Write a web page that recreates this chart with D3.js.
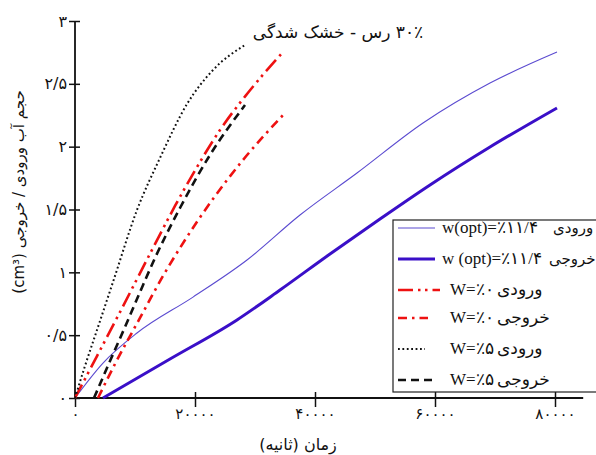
<!DOCTYPE html>
<html><head><meta charset="utf-8">
<script src="https://cdn.jsdelivr.net/npm/d3@7"></script>
<style>body{margin:0;background:#fff}svg{display:block}</style>
</head><body>
<svg id="c" width="596" height="455"></svg>
<script>
// ---- data ----
const xTicks = [0, 20000, 40000, 60000, 80000];
const xTickLabels = ["۰", "۲۰۰۰۰", "۴۰۰۰۰", "۶۰۰۰۰", "۸۰۰۰۰"];
const yTicks = [0, 0.5, 1, 1.5, 2, 2.5, 3];
const yTickLabels = ["۰", "۰/۵", "۱", "۱/۵", "۲", "۲/۵", "۳"];

const tOptIn  = [0, 4667, 10333, 19667, 28667, 37500, 47000, 58000, 69167, 80333];
const vOptIn  = [0, 0.278, 0.517, 0.803, 1.098, 1.456, 1.790, 2.188, 2.506, 2.753];
const tOptOut = [4667, 15833, 27000, 34167, 42500, 50833, 59167, 69167, 80333];
const vOptOut = [0, 0.310, 0.621, 0.859, 1.146, 1.424, 1.695, 1.997, 2.308];
const tW0In   = [0, 3667, 7500, 13000, 16667, 20333, 24167, 28667, 34667];
const vW0In   = [0, 0.334, 0.684, 1.194, 1.528, 1.838, 2.133, 2.419, 2.753];
const tW0Out  = [3833, 6667, 10833, 14667, 18333, 23000, 28000, 35000];
const vW0Out  = [0, 0.271, 0.637, 0.971, 1.257, 1.584, 1.894, 2.268];
const tW5In   = [0, 1667, 3667, 6333, 10333, 14167, 18667, 23000, 28333];
const vW5In   = [0, 0.255, 0.541, 0.923, 1.496, 1.910, 2.339, 2.610, 2.809];
const tW5Out  = [3167, 5833, 8333, 10833, 13333, 17500, 22500, 28333];
const vW5Out  = [0, 0.294, 0.565, 0.843, 1.114, 1.512, 1.934, 2.331];

const seriesNames = ["ورودی", "خروجی", "ورودی", "خروجی", "ورودی", "خروجی"];
const seriesW = ["w(opt)=٪۱۱/۴", "w (opt)=٪۱۱/۴", "W=٪۰", "W=٪۰", "W=٪۵", "W=٪۵"];

const title = "۳۰٪ رس - خشک شدگی";
const xTitle = "زمان (ثانیه)";
const yTitle = "حجم آب ورودی / خروجی (cm³)";

// ---- styles ----
const styles = [
  {t: tOptIn,  v: vOptIn,  color: "#5b4bd0", w: 1.1, dash: null},
  {t: tOptOut, v: vOptOut, color: "#3a0fc8", w: 3,   dash: null},
  {t: tW0In,   v: vW0In,   color: "#ee1111", w: 2.6, dash: "15,5,2.5,4.5,2.5,5"},
  {t: tW0Out,  v: vW0Out,  color: "#ee1111", w: 2.6, dash: "9,5,2.5,5"},
  {t: tW5In,   v: vW5In,   color: "#111111", w: 2,   dash: "1.8,2.6"},
  {t: tW5Out,  v: vW5Out,  color: "#111111", w: 2.6, dash: "8,5"}
];

const svg = d3.select("#c");
const x = d3.scaleLinear().domain([0, 80000]).range([75, 555]);
const y = d3.scaleLinear().domain([0, 3]).range([398, 21]);

const persian = "'DejaVu Sans', 'Noto Sans', sans-serif";
const serif = "'Liberation Serif', 'DejaVu Serif', serif";

// axes
const gx = svg.append("g").attr("transform", `translate(0,${y(0)})`)
  .call(d3.axisBottom(x).tickValues(xTicks).tickFormat((d,i)=>xTickLabels[i]).tickSizeOuter(0));
gx.select(".domain").remove();
gx.selectAll(".tick line").attr("y1", -6).attr("y2", 9).attr("stroke", "#111").attr("stroke-width", 1.5);
gx.selectAll(".tick text").attr("y", 10).attr("dy", "0.71em").attr("font-family", persian).attr("font-size", 15).attr("fill", "#111");
svg.append("line").attr("x1", x(0)).attr("x2", x(84700)).attr("y1", y(0)).attr("y2", y(0)).attr("stroke", "#111").attr("stroke-width", 1.8);

const gy = svg.append("g").attr("transform", `translate(${x(0)},0)`)
  .call(d3.axisLeft(y).tickValues(yTicks).tickFormat((d,i)=>yTickLabels[i]).tickSizeOuter(0));
gy.select(".domain").remove();
gy.selectAll(".tick line").attr("x1", -6).attr("x2", 5).attr("stroke", "#111").attr("stroke-width", 1.5);
gy.selectAll(".tick text").attr("x", -8).attr("font-family", persian).attr("font-size", 16).attr("fill", "#111");
svg.append("line").attr("x1", x(0)).attr("x2", x(0)).attr("y1", y(0)).attr("y2", y(3)).attr("stroke", "#111").attr("stroke-width", 1.8);

// lines
const line = d3.line().x(d=>x(d[0])).y(d=>y(d[1])).curve(d3.curveMonotoneX);
styles.forEach(s => {
  const pts = s.t.map((t,i)=>[t, s.v[i]]);
  const p = svg.append("path").datum(pts).attr("d", line).attr("fill", "none")
    .attr("stroke", s.color).attr("stroke-width", s.w);
  if (s.dash) p.attr("stroke-dasharray", s.dash);
});

// title
svg.append("text").attr("x", 338).attr("y", 38).attr("text-anchor", "middle")
  .attr("direction", "rtl").attr("font-family", persian).attr("font-size", 17).attr("fill", "#111").text(title);

// axis titles
svg.append("text").attr("x", 298).attr("y", 450).attr("text-anchor", "middle")
  .attr("font-family", persian).attr("font-size", 16).attr("fill", "#111").text(xTitle);
svg.append("text").attr("transform", "translate(24,192) rotate(-90)").attr("text-anchor", "middle")
  .attr("direction", "rtl").attr("font-family", persian).attr("font-size", 15).attr("fill", "#111").text(yTitle);

// legend
const lg = svg.append("g");
lg.append("rect").attr("x", 393).attr("y", 220).attr("width", 210).attr("height", 172)
  .attr("fill", "#fff").attr("stroke", "#222").attr("stroke-width", 1.2);
const rowY = [228, 259, 290, 318, 349, 380];
const sampleEnd = [435, 435, 440, 428, 425, 435];
styles.forEach((s, i) => {
  const l = lg.append("line").attr("x1", 398).attr("x2", sampleEnd[i]).attr("y1", rowY[i]).attr("y2", rowY[i])
    .attr("stroke", s.color).attr("stroke-width", s.w);
  if (s.dash) l.attr("stroke-dasharray", s.dash);
  const big = i < 2;
  lg.append("text").attr("x", big ? 442 : 450).attr("y", rowY[i] + 5).attr("direction", "ltr")
    .attr("font-family", serif).attr("font-size", big ? 17 : 17).attr("fill", "#111").text(seriesW[i]);
  lg.append("text").attr("x", big ? (i === 0 ? 553 : 549) : 497).attr("y", rowY[i] + 5)
    .attr("font-family", persian).attr("font-size", big ? 15 : 17).attr("fill", "#111").text(seriesNames[i]);
});
</script>
</body></html>
